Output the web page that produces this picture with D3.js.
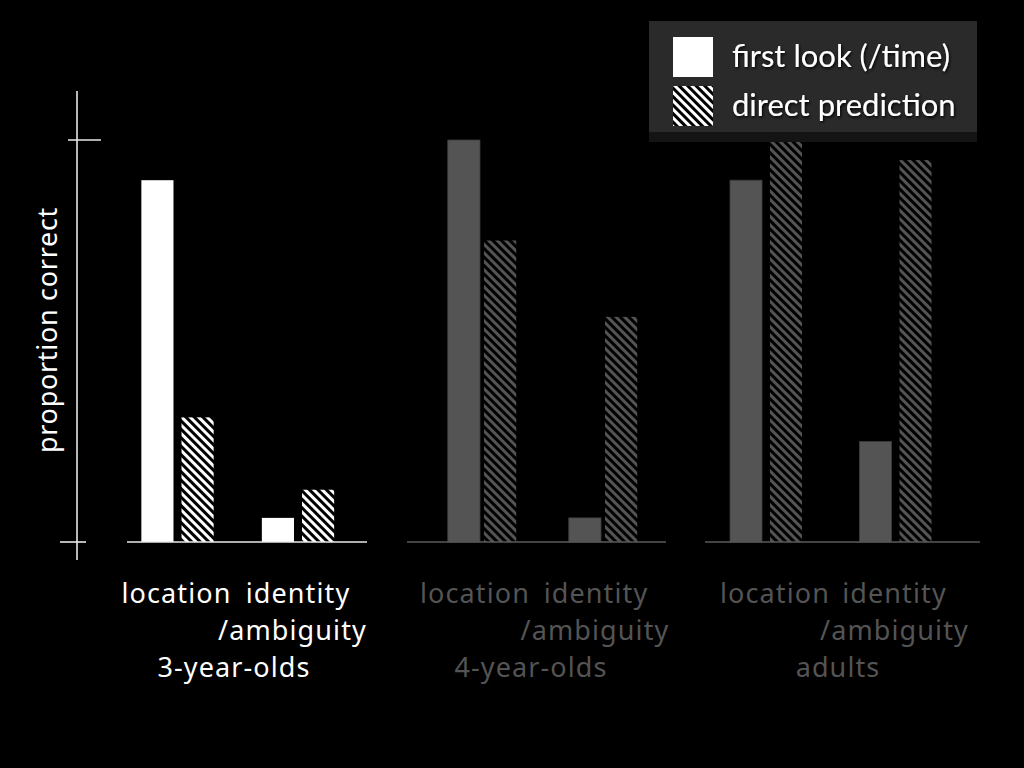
<!DOCTYPE html>
<html>
<head>
<meta charset="utf-8">
<script src="https://cdn.jsdelivr.net/npm/d3@7"></script>
<style>
  html, body { margin: 0; padding: 0; background: #000; }
  svg { display: block; }
  text { font-family: "Noto Sans", sans-serif; }
  .legend text { font-family: Lato, sans-serif; }
</style>
</head>
<body>
<svg id="chart" width="1024" height="768"></svg>
<script>
// ---- data ----
const groups = ["3-year-olds", "4-year-olds", "adults"];
const categories = ["location", "identity"];
const seriesNames = ["first look (/time)", "direct prediction"];
// proportion correct per group, one array per series/category
const firstLookLocation = [0.90, 1.00, 0.90];
const firstLookIdentity = [0.06, 0.06, 0.25];
const directLocation    = [0.31, 0.75, 0.995];
const directIdentity    = [0.13, 0.56, 0.95];
const yTickValues = [0, 1];

// ---- layout / style ----
const W = 1024, H = 768;
const WHITE = "#ffffff", GREY = "#545454";
const groupLayout = [
  { range: [117.25, 358.25], catPad: 0.40, serPad: 0.20, base: [127, 367], color: WHITE,
    text: { location: 176.5, identity: 298, amb: 292.5, group: 234 } },
  { range: [421.5, 663.5],   catPad: 0.434, serPad: 0.11, base: [407, 666], color: GREY,
    text: { location: 475, identity: 596, amb: 595, group: 531 } },
  { range: [701.25, 960.25], catPad: 0.444, serPad: 0.20, base: [705, 980], color: GREY,
    text: { location: 775, identity: 894.5, amb: 894.5, group: 838 } }
];

const svg = d3.select("#chart");
svg.append("rect").attr("width", W).attr("height", H).attr("fill", "#000");

const defs = svg.append("defs");
function hatch(id, color) {
  const p = defs.append("pattern")
    .attr("id", id)
    .attr("patternUnits", "userSpaceOnUse")
    .attr("width", 6).attr("height", 6)
    .attr("patternTransform", "rotate(-45)");
  p.append("rect").attr("width", 6).attr("height", 6).attr("fill", "#000");
  p.append("rect").attr("width", 3).attr("height", 6).attr("fill", color);
}
hatch("hatch-white", WHITE);
hatch("hatch-grey", GREY);
const shadow = defs.append("filter").attr("id", "txtShadow")
  .attr("x", "-10%").attr("y", "-30%").attr("width", "120%").attr("height", "160%");
shadow.append("feDropShadow").attr("dx", 1).attr("dy", 1.5)
  .attr("stdDeviation", 1.5).attr("flood-color", "#000").attr("flood-opacity", 1);

// ---- scales ----
const y = d3.scaleLinear().domain([0, 1]).range([542, 140]);

// ---- y axis ----
const axisG = svg.append("g").attr("class", "y-axis");
axisG.append("line")
  .attr("x1", 77).attr("x2", 77).attr("y1", 91).attr("y2", 560)
  .attr("stroke", "#e8e8e8").attr("stroke-width", 1.6);
const tickExtent = { 0: [60, 86], 1: [68, 101] };
axisG.selectAll("line.tick").data(yTickValues).join("line")
  .attr("class", "tick")
  .attr("x1", d => tickExtent[d][0]).attr("x2", d => tickExtent[d][1])
  .attr("y1", d => y(d)).attr("y2", d => y(d))
  .attr("stroke", "#e8e8e8").attr("stroke-width", 1.6);

svg.append("text")
  .attr("transform", "translate(57,330) rotate(-90)")
  .attr("text-anchor", "middle")
  .attr("fill", WHITE)
  .attr("font-size", 27)
  .attr("letter-spacing", 0.7)
  .text("proportion correct");

// ---- groups ----
groups.forEach((g, gi) => {
  const L = groupLayout[gi];
  const x0 = d3.scaleBand().domain(categories).range(L.range)
    .paddingInner(L.catPad).paddingOuter(L.catPad / 2);
  const x1 = d3.scaleBand().domain(seriesNames).range([0, x0.bandwidth()])
    .paddingInner(L.serPad).paddingOuter(0);
  const fillFor = s => s === seriesNames[0] ? L.color
    : (L.color === WHITE ? "url(#hatch-white)" : "url(#hatch-grey)");

  const rows = [
    { cat: "location", ser: seriesNames[0], v: firstLookLocation[gi] },
    { cat: "location", ser: seriesNames[1], v: directLocation[gi] },
    { cat: "identity", ser: seriesNames[0], v: firstLookIdentity[gi] },
    { cat: "identity", ser: seriesNames[1], v: directIdentity[gi] }
  ];

  const gg = svg.append("g").attr("class", "group");
  gg.selectAll("rect.bar").data(rows).join("rect")
    .attr("class", "bar")
    .attr("x", d => x0(d.cat) + x1(d.ser))
    .attr("width", x1.bandwidth())
    .attr("y", d => y(d.v))
    .attr("height", d => y(0) - y(d.v))
    .attr("fill", d => fillFor(d.ser))
    .attr("stroke", d => d.ser === seriesNames[0] && L.color === GREY ? "#3c3c3c" : "none")
    .attr("stroke-width", 0.8);

  // baseline
  gg.append("line")
    .attr("x1", L.base[0]).attr("x2", L.base[1])
    .attr("y1", y(0)).attr("y2", y(0))
    .attr("stroke", L.color === WHITE ? "#e8e8e8" : "#5a5a5a")
    .attr("stroke-width", 1.6);

  // category and group labels
  const tg = gg.append("g").attr("fill", L.color).attr("font-size", 27)
    .attr("letter-spacing", 1.1)
    .attr("text-anchor", "middle");
  tg.append("text").attr("x", L.text.location).attr("y", 603).text(categories[0]);
  tg.append("text").attr("x", L.text.identity).attr("y", 603).text(categories[1]);
  tg.append("text").attr("x", L.text.amb).attr("y", 640).text("/ambiguity");
  tg.append("text").attr("x", L.text.group).attr("y", 677).text(g);
});

// ---- legend ----
const lg = svg.append("g").attr("class", "legend");
lg.append("rect").attr("x", 649).attr("y", 130).attr("width", 328).attr("height", 12)
  .attr("fill", "#141414");
lg.append("rect").attr("x", 649).attr("y", 21).attr("width", 328).attr("height", 111)
  .attr("fill", "#2a2a2a");
const legendItems = lg.selectAll("g.item").data(seriesNames).join("g")
  .attr("class", "item")
  .attr("transform", (d, i) => `translate(673,${37 + i * 49})`);
legendItems.append("rect")
  .attr("width", 40).attr("height", 40)
  .attr("fill", (d, i) => i === 0 ? WHITE : "url(#hatch-white)");
legendItems.append("text")
  .attr("x", 59).attr("y", 30)
  .attr("fill", WHITE)
  .attr("font-size", 31)
  .attr("filter", "url(#txtShadow)")
  .text(d => d);
</script>
</body>
</html>
